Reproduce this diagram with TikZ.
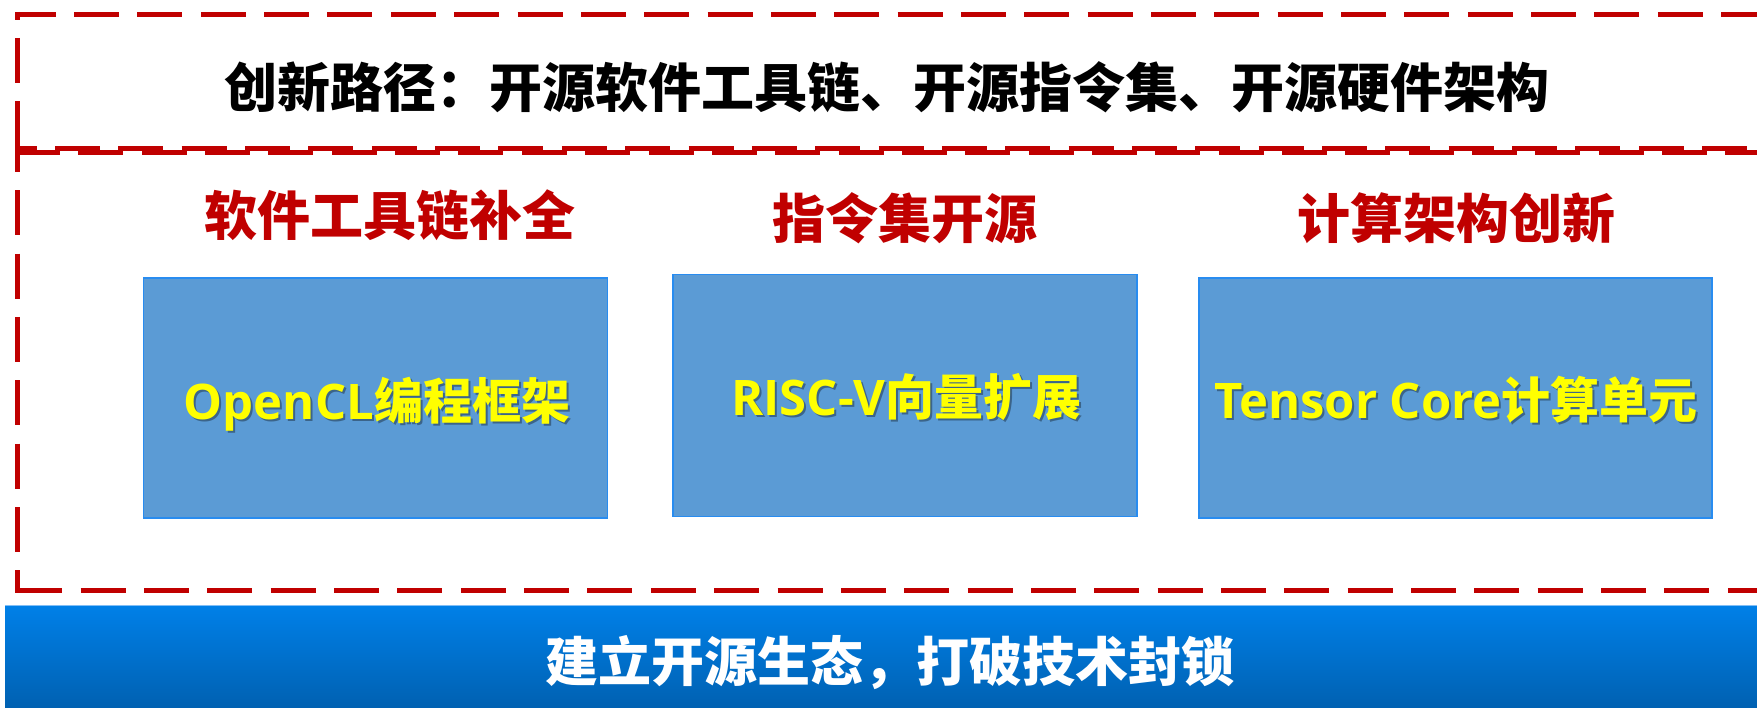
\documentclass[tikz,border=0pt]{standalone}
\usepackage{fontspec}
\newfontfamily\cjk{Noto Sans CJK SC}
\newfontfamily\lat{Open Sans}
\definecolor{dred}{RGB}{192,0,0}
\definecolor{boxfill}{RGB}{91,155,213}
\definecolor{boxline}{RGB}{40,140,240}
\definecolor{bartop}{RGB}{0,128,232}
\definecolor{barbot}{RGB}{0,96,176}
\definecolor{barline}{RGB}{130,190,245}
\definecolor{ylw}{RGB}{255,255,0}
\newcommand\mybxtext[2]{{\lat\bfseries #1}{\cjk\bfseries #2}}
\begin{document}
\begin{tikzpicture}[x=1pt,y=-1pt]
\useasboundingbox (0,0) rectangle (1757,708);
\tikzset{
  reddash/.style={draw=dred, line width=5pt, dash pattern=on 45pt off 18.35pt},
  bluebox/.style={draw=boxline, fill=boxfill, line width=1.3pt, minimum width=464pt, minimum height=240pt, inner sep=0pt},
  boxtxt/.style={text=ylw, font=\fontsize{49}{56}\selectfont, inner sep=0pt, anchor=base},
  boxshadow/.style={text=black, opacity=0.35, font=\fontsize{49}{56}\selectfont, inner sep=0pt, anchor=base},
  heading/.style={text=dred, font=\cjk\bfseries\fontsize{53}{60}\selectfont, inner sep=0pt},
  titletxt/.style={text=black, font=\cjk\bfseries\fontsize{53}{60}\selectfont, inner sep=0pt},
  bartxt/.style={text=white, font=\cjk\bfseries\fontsize{53}{60}\selectfont, inner sep=0pt},
}
% dashed frames
\coordinate (ulT) at (15,14.5);   \coordinate (urT) at (1800,14.5);
\coordinate (ulL1) at (17.5,12);  \coordinate (ulL2) at (17.5,148);
\coordinate (ulB) at (15,148.5);  \coordinate (urB) at (1800,148.5);
\coordinate (llT) at (15,152.5);  \coordinate (lrT) at (1800,152.5);
\coordinate (llL1) at (17.5,152); \coordinate (llL2) at (17.5,592.5);
\coordinate (llB) at (15,590);    \coordinate (lrB) at (1800,590);
\draw[reddash, dash phase=4.3] (ulT) -- (urT);
\draw[reddash, dash phase=37.4] (ulL1) -- (ulL2);
\draw[reddash, dash phase=23.35] (ulB) -- (urB);
\draw[reddash, dash phase=0] (llT) -- (lrT);
\draw[reddash, dash phase=25.1] (llL1) -- (llL2);
\draw[reddash, dash phase=61.05] (llB) -- (lrB);
% title
\node[titletxt] (title) at (887,87) {创新路径：开源软件工具链、开源指令集、开源硬件架构};
% headings
\node[heading] (h1) at (390,215) {软件工具链补全};
\node[heading] (h2) at (905,218) {指令集开源};
\node[heading] (h3) at (1456,218) {计算架构创新};
% boxes
\node[bluebox] (b1) at (375.5,398) {};
\node[bluebox, minimum height=242pt] (b2) at (905,395.5) {};
\node[bluebox, minimum width=513pt] (b3) at (1455.5,398) {};
\node[boxshadow] (s1) at ([shift={(3.5,24)}]b1.center) {\mybxtext{OpenCL}{编程框架}};
\node[boxtxt] (t1) at ([shift={(1.5,22)}]b1.center) {\mybxtext{OpenCL}{编程框架}};
\node[boxshadow] (s2) at ([shift={(3.5,22)}]b2.center) {\mybxtext{RISC-V}{向量扩展}};
\node[boxtxt] (t2) at ([shift={(1.5,20)}]b2.center) {\mybxtext{RISC-V}{向量扩展}};
\node[boxshadow] (s3) at ([shift={(2.5,23)}]b3.center) {\mybxtext{Tensor Core}{计算单元}};
\node[boxtxt] (t3) at ([shift={(0.5,21)}]b3.center) {\mybxtext{Tensor Core}{计算单元}};
% bottom bar
\node[anchor=north west, minimum width=1760pt, minimum height=105pt, inner sep=0pt,
      top color=bartop, bottom color=barbot, draw=none] (bar) at (5,605) {};
\draw[draw=barline, line width=1pt] (bar.north west) -- (bar.north east);
\node[bartxt] (bt) at (890,663) {建立开源生态，打破技术封锁};
\end{tikzpicture}
\end{document}
